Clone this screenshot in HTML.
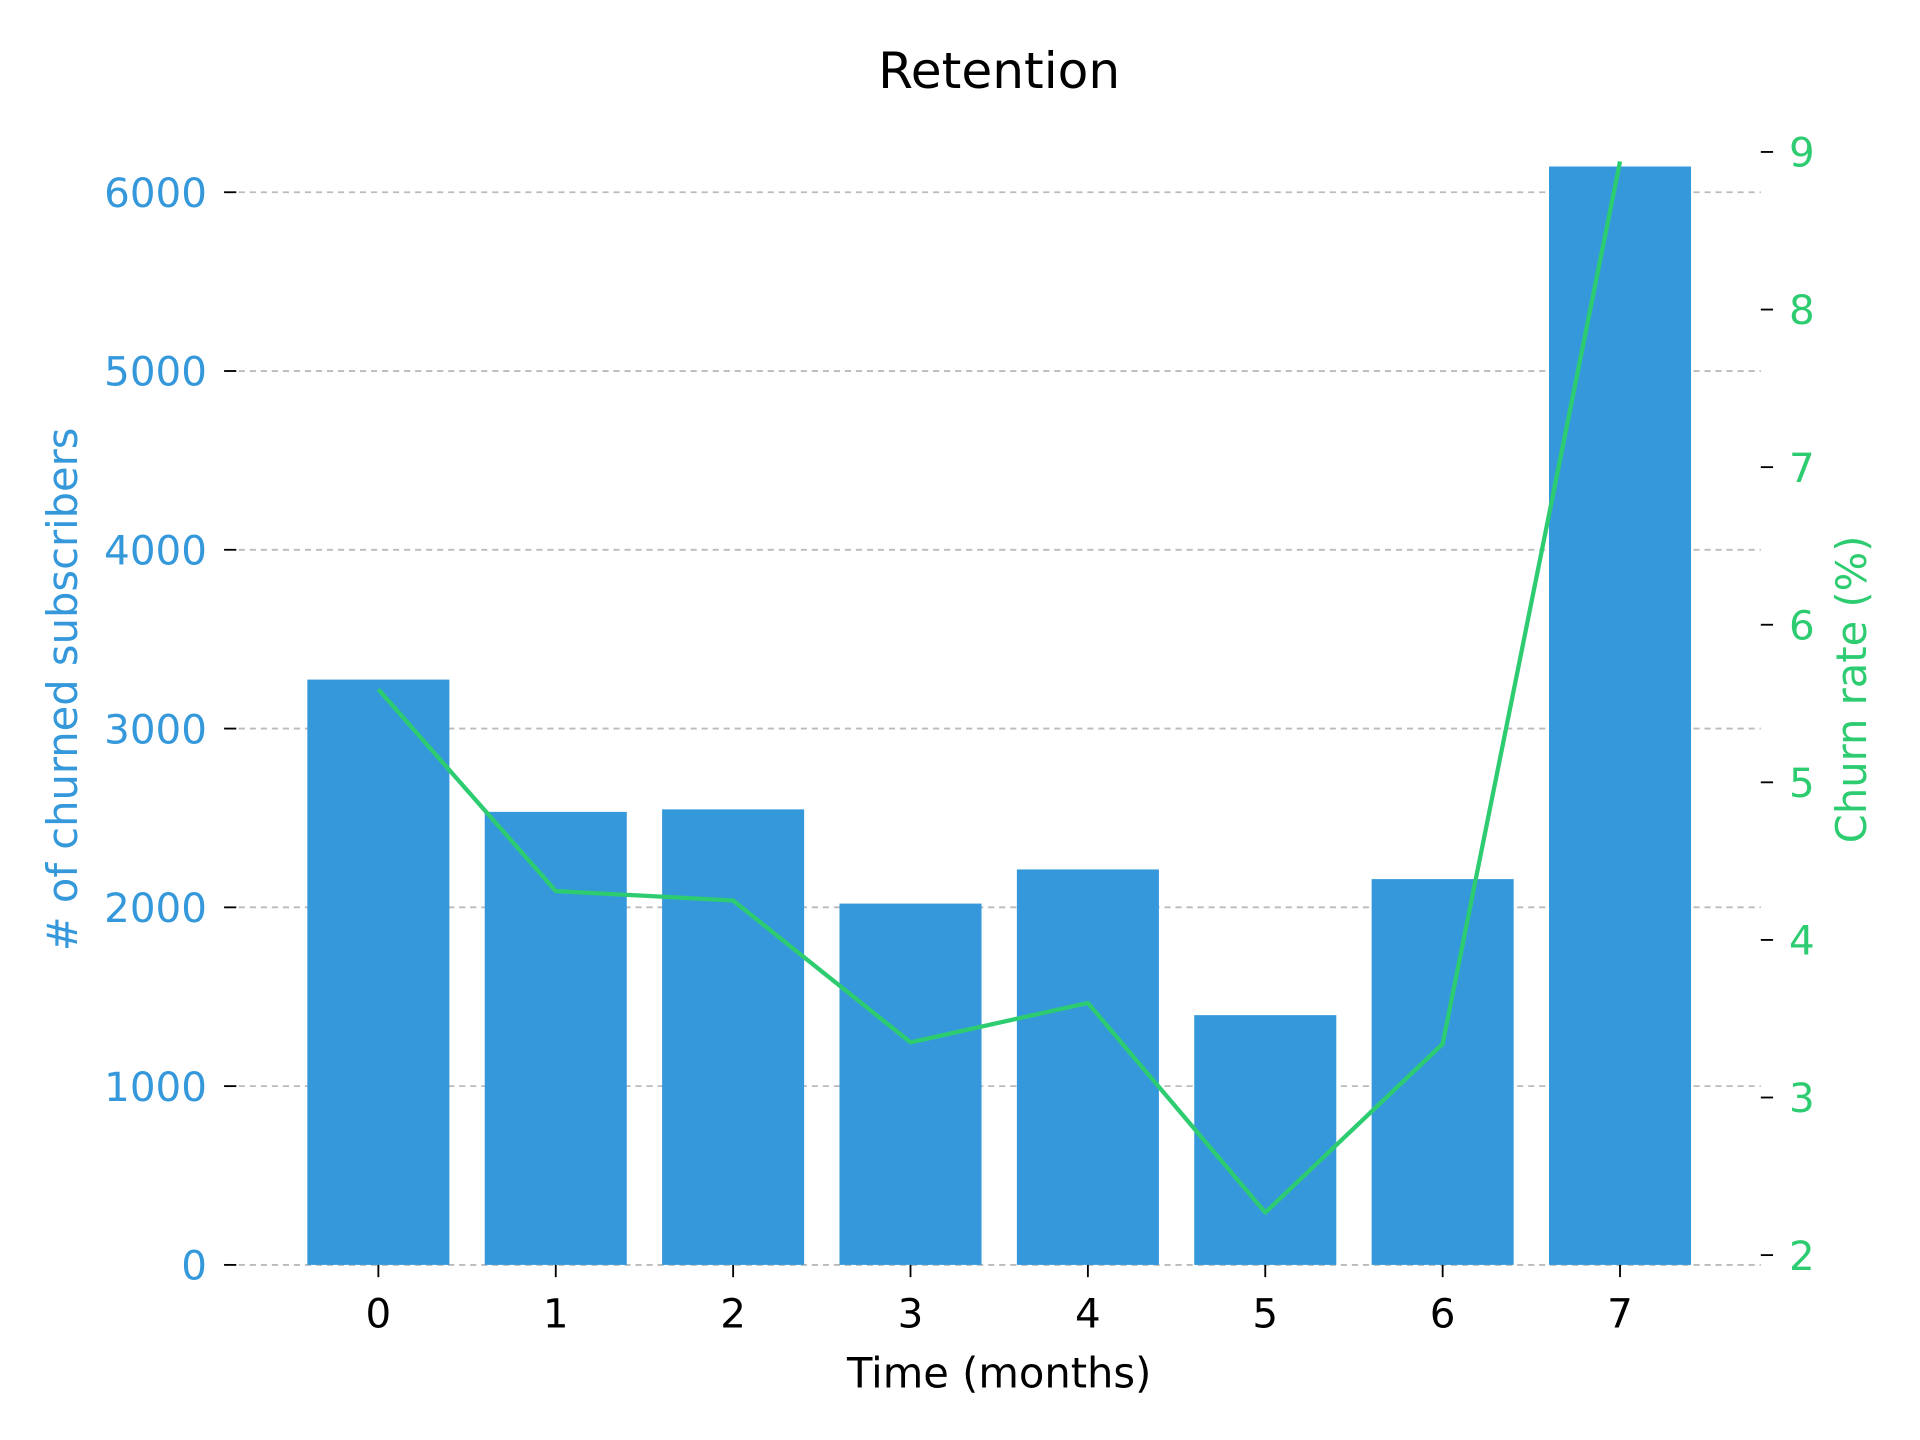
<!DOCTYPE html>
<html><head><meta charset="utf-8"><style>
html,body{margin:0;padding:0;background:#fff;}
svg{display:block;font-family:"DejaVu Sans","Liberation Sans",sans-serif;}
</style></head><body>
<svg id="chart" width="1920" height="1440" viewBox="0 0 1568 1176" preserveAspectRatio="none" xmlns="http://www.w3.org/2000/svg">
<text x="816" y="72" font-size="41" text-anchor="middle" fill="#000">Retention</text>
<g id="grid"></g><g id="bars"></g><g id="line"></g><g id="axes"></g>
<text x="816" y="1133" font-size="34" text-anchor="middle" fill="#000">Time (months)</text>
<text transform="translate(63,563) rotate(-90)" font-size="34" text-anchor="middle" fill="#3498db"># of churned subscribers</text>
<text transform="translate(1524,563) rotate(-90)" font-size="34" text-anchor="middle" fill="#2ecc71">Churn rate (%)</text>
</svg>
<script>
const categories=["0","1","2","3","4","5","6","7"];
const churnedCounts=[3274,2534,2548,2021,2212,1397,2158,6144];
const churnRates=[5.59,4.31,4.25,3.35,3.60,2.27,3.34,8.94];
const leftTicks=[0,1000,2000,3000,4000,5000,6000];
const rightTicks=[2,3,4,5,6,7,8,9];

const NS="http://www.w3.org/2000/svg";
const x=i=>309+i*144.86;
const yL=v=>1033-v*0.146;
const yR=v=>1025-(v-2)*128.7;
function mk(tag,attrs,parent,txt){const e=document.createElementNS(NS,tag);for(const k in attrs)e.setAttribute(k,attrs[k]);if(txt!==undefined)e.textContent=txt;document.getElementById(parent).appendChild(e);return e;}

leftTicks.forEach(t=>{
  const g=mk('line',{x1:195,x2:1438,y1:yL(t),y2:yL(t),stroke:'#bbb','stroke-width':1.5,'stroke-dasharray':'5,4'},'grid');
  
  
  const tk=mk('line',{x1:183,x2:193,y1:yL(t),y2:yL(t),stroke:'#000','stroke-width':1.5},'axes');
  
  
  const l=mk('text',{x:169,y:yL(t)+12,'font-size':33,'text-anchor':'end',fill:'#3498db'},'axes',String(t));
  
  
});
rightTicks.forEach(t=>{
  const tk=mk('line',{x1:1438,x2:1448,y1:yR(t),y2:yR(t),stroke:'#000','stroke-width':1.5},'axes');
  
  
  const l=mk('text',{x:1461,y:yR(t)+12,'font-size':33,'text-anchor':'start',fill:'#2ecc71'},'axes',String(t));
  
  
});
categories.forEach((c,i)=>{
  const b=mk('rect',{x:x(i)-58,y:yL(churnedCounts[i]),width:116,height:yL(0)-yL(churnedCounts[i]),fill:'#3498db'},'bars');
  
  
  const tk=mk('line',{x1:x(i),x2:x(i),y1:1033,y2:1043,stroke:'#000','stroke-width':1.5},'axes');
  
  
  const l=mk('text',{x:x(i),y:1084,'font-size':33,'text-anchor':'middle',fill:'#000'},'axes',c);
  
  
});
const pts=churnRates.map((v,i)=>x(i)+','+yR(v)).join(' ');
const pl=mk('polyline',{points:pts,fill:'none',stroke:'#2ecc71','stroke-width':3.5,'stroke-linejoin':'round'},'line');


</script>
</body></html>
